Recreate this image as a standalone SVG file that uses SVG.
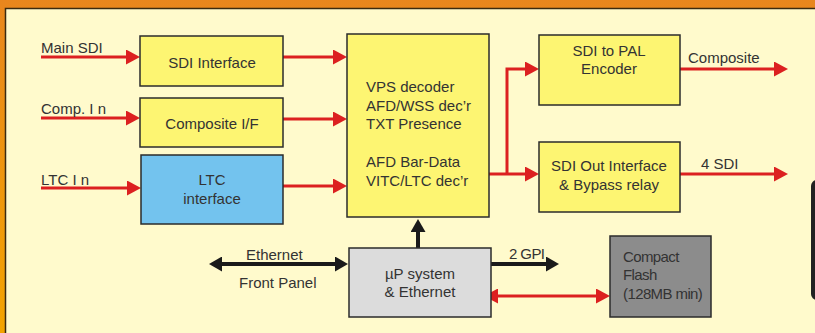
<svg xmlns="http://www.w3.org/2000/svg" width="815" height="333" viewBox="0 0 815 333">
<style>
text{font-family:"Liberation Sans",Arial,sans-serif;font-size:15px;fill:#333}
.c{text-anchor:middle}
.n{letter-spacing:-0.6px}
.box{stroke:#2b2b2b;stroke-width:1.5}
.y{fill:#FDF572}
.r{fill:none;stroke:#DC2020;stroke-width:3}
.k{fill:none;stroke:#1a1a1a;stroke-width:4}
</style>
<defs>
<linearGradient id="og" x1="0" y1="0" x2="0" y2="1">
<stop offset="0" stop-color="#E8861D"/>
<stop offset="1" stop-color="#F3A300"/>
</linearGradient>
<marker id="ar" markerUnits="userSpaceOnUse" markerWidth="14" markerHeight="15" refX="2" refY="7.5" orient="auto-start-reverse" viewBox="0 0 14 15">
<path d="M0,0 L14,7.5 L0,15 z" fill="#DC2020"/>
</marker>
<marker id="ak" markerUnits="userSpaceOnUse" markerWidth="13" markerHeight="15" refX="2" refY="7.5" orient="auto-start-reverse" viewBox="0 0 13 15">
<path d="M0,0 L13,7.5 L0,15 z" fill="#1a1a1a"/>
</marker>
</defs>
<rect x="0" y="0" width="815" height="333" fill="url(#og)"/>
<rect x="5.5" y="8.5" width="830" height="340" fill="#FFFACC" stroke="#3a2a10" stroke-width="1.5"/>
<rect x="811" y="180" width="20" height="120" rx="6" fill="#222"/>

<g id="connectors">
<path class="r" d="M41,57 H128" marker-end="url(#ar)"/>
<path class="r" d="M41,118 H128" marker-end="url(#ar)"/>
<path class="r" d="M41,188 H129" marker-end="url(#ar)"/>
<path class="r" d="M283,57 H335" marker-end="url(#ar)"/>
<path class="r" d="M283,119 H335" marker-end="url(#ar)"/>
<path class="r" d="M283,186 H335" marker-end="url(#ar)"/>
<path class="r" d="M489,174 H527" marker-end="url(#ar)"/>
<path class="r" d="M507,174 V69 H527" marker-end="url(#ar)"/>
<path class="r" d="M680,69 H776" marker-end="url(#ar)"/>
<path class="r" d="M680,174 H776" marker-end="url(#ar)"/>
<path class="r" d="M496,296 H598" marker-start="url(#ar)" marker-end="url(#ar)"/>
<path class="k" d="M418,248 V230" marker-end="url(#ak)"/>
<path class="k" d="M220,264 H337" marker-start="url(#ak)" marker-end="url(#ak)"/>
<path class="k" d="M480,264 H548" marker-end="url(#ak)"/>
<text x="41" y="53">Main SDI</text>
<text x="41" y="114">Comp. I n</text>
<text x="41" y="185">LTC I n</text>
<text x="688" y="63">Composite</text>
<text x="701" y="169">4 SDI</text>
<text x="246" y="260">Ethernet</text>
<text x="239" y="288">Front Panel</text>
<text class="n" x="509" y="259">2 GPI</text>
</g>

<g id="sdi-interface">
<rect class="box y" x="140" y="36" width="143" height="50"/>
<text class="c" x="212" y="68">SDI Interface</text>
</g>
<g id="composite-if">
<rect class="box y" x="140" y="98" width="143" height="49"/>
<text class="c" x="212" y="129">Composite I/F</text>
</g>
<g id="ltc-interface">
<rect class="box" fill="#73C3EE" x="141" y="155" width="142" height="69"/>
<text class="c" x="212" y="185">LTC</text>
<text class="c" x="212" y="204">interface</text>
</g>
<g id="decoder">
<rect class="box y" x="347" y="34" width="142" height="183"/>
<text x="366" y="92">VPS decoder</text>
<text x="366" y="110.5">AFD/WSS dec’r</text>
<text x="366" y="129">TXT Presence</text>
<text x="366" y="167">AFD Bar-Data</text>
<text x="366" y="186">VITC/LTC dec’r</text>
</g>
<g id="pal-encoder">
<rect class="box y" x="539" y="35" width="141" height="70"/>
<text class="c" x="609" y="56">SDI  to PAL</text>
<text class="c" x="609" y="74">Encoder</text>
</g>
<g id="sdi-out">
<rect class="box y" x="539" y="142" width="141" height="70"/>
<text class="c" x="609" y="171">SDI Out Interface</text>
<text class="c" x="609" y="190">&amp; Bypass relay</text>
</g>
<g id="up-system">
<rect class="box" fill="#DCDCDC" x="349" y="248" width="142" height="69"/>
<text class="c" x="420" y="279">µP system</text>
<text class="c" x="420" y="297">&amp; Ethernet</text>
</g>
<g id="compact-flash">
<rect class="box" fill="#8C8C8C" x="610" y="236" width="101" height="81"/>
<text class="n" x="623" y="262">Compact</text>
<text class="n" x="623" y="280">Flash</text>
<text class="n" x="623" y="299">(128MB min)</text>
</g>
</svg>
